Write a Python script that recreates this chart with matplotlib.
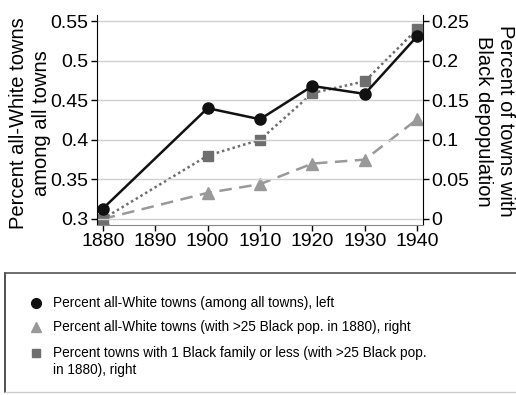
import matplotlib.pyplot as plt
from matplotlib.lines import Line2D

plt.rcParams["font.family"] = ["Liberation Sans", "DejaVu Sans"]

years = [1880, 1900, 1910, 1920, 1930, 1940]
all_white_share = [0.313, 0.440, 0.426, 0.468, 0.458, 0.531]
all_white_black25 = [0.0, 0.033, 0.044, 0.070, 0.075, 0.126]
one_family_black25 = [0.0, 0.080, 0.100, 0.159, 0.174, 0.240]

left_ticks = [0.3, 0.35, 0.4, 0.45, 0.5, 0.55]
left_labels = ["0.3", "0.35", "0.4", "0.45", "0.5", "0.55"]
right_ticks = [0, 0.05, 0.1, 0.15, 0.2, 0.25]
right_labels = ["0", "0.05", "0.1", "0.15", "0.2", "0.25"]
x_ticks = [1880, 1890, 1900, 1910, 1920, 1930, 1940]

legend_labels = [
    "Percent all-White towns (among all towns), left",
    "Percent all-White towns (with >25 Black pop. in 1880), right",
    "Percent towns with 1 Black family or less (with >25 Black pop.\nin 1880), right",
]

W, H = 516, 395
fig = plt.figure(figsize=(W / 100, H / 100), dpi=100)
ax = fig.add_axes([97 / W, 1 - 225 / H, 326 / W, 210 / H])
ax2 = ax.twinx()

ax.set_xlim(1878.9, 1941.1)
ax.set_ylim(0.2924, 0.5577)
ax2.set_ylim(-0.0076, 0.2577)

for v in left_ticks:
    ax.axhline(v, color="#d0d0d0", lw=1.0, zorder=0)

ax2.plot(years, all_white_black25, color="#999999", ls=(0, (5, 3)), lw=1.8,
         marker="^", ms=8, zorder=2)
ax2.plot(years, one_family_black25, color="#6e6e6e", ls=(0, (1, 1.2)), lw=1.8,
         marker="s", ms=7, zorder=3)
ax.set_zorder(ax2.get_zorder() + 1)
ax.patch.set_visible(False)
ax.plot(years, all_white_share, color="#111111", lw=1.8, marker="o", ms=8, zorder=4)

ax.set_yticks(left_ticks)
ax.set_yticklabels(left_labels)
ax2.set_yticks(right_ticks)
ax2.set_yticklabels(right_labels)
ax.set_xticks(x_ticks)

for a in (ax, ax2):
    a.tick_params(labelsize=14, length=4, width=1, pad=2)
    a.spines["top"].set_visible(False)
ax.spines["right"].set_visible(False)
ax2.spines["left"].set_visible(False)
ax2.spines["bottom"].set_visible(False)
ax.spines["bottom"].set_color("#888888")
ax.spines["bottom"].set_linewidth(0.8)

# axis titles placed in figure pixels
fig.text(30 / W, 1 - 123 / H, "Percent all-White towns\namong all towns", fontsize=14.5,
         rotation=90, ha="center", va="center", multialignment="center",
         linespacing=1.3)
fig.text(495 / W, 1 - 121 / H, "Percent of towns with\nBlack depopulation", fontsize=14.5,
         rotation=270, ha="center", va="center", multialignment="center")

# legend panel below the plot
panel_top = 1 - 273 / H
panel_bottom = 1 - 392 / H
panel_left = 5 / W
fig.add_artist(Line2D([panel_left, panel_left], [panel_bottom, panel_top],
                      transform=fig.transFigure, color="#333333", lw=1.2))
fig.add_artist(Line2D([panel_left, 1.0], [panel_top, panel_top],
                      transform=fig.transFigure, color="#555555", lw=1.2))
fig.add_artist(Line2D([panel_left, 1.0], [panel_bottom, panel_bottom],
                      transform=fig.transFigure, color="#cccccc", lw=1.0))

legend_markers = [("o", "#111111", 7), ("^", "#999999", 7), ("s", "#6e6e6e", 6)]
legend_rows = [303, 327, 353]
for (mk, col, ms), label, row in zip(legend_markers, legend_labels, legend_rows):
    y = 1 - row / H
    fig.add_artist(Line2D([36 / W], [y], transform=fig.transFigure, ls="none",
                          marker=mk, color=col, ms=ms))
    first, *rest = label.split("\n")
    fig.text(53 / W, y, first, fontsize=9.8, ha="left", va="center")
    for i, extra in enumerate(rest, start=1):
        fig.text(53 / W, y - 17 * i / H, extra, fontsize=9.8, ha="left", va="center")

fig.savefig("out.png", dpi=100)
